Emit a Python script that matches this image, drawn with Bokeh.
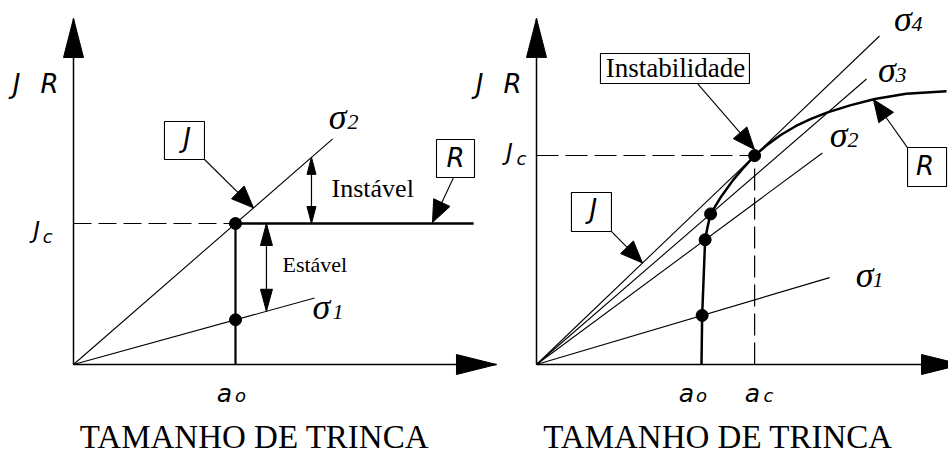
import math

from bokeh.core.properties import value
from bokeh.embed import file_html
from bokeh.models import Range1d
from bokeh.plotting import figure
from bokeh.resources import INLINE

# ---------------------------------------------------------------------------
# Data, in normalised units: crack length a / a0 and J / Jc
# ---------------------------------------------------------------------------

# Left diagram: flat resistance curve (R = Jc from a0 on)
L_A0 = 1.0
L_JC = 1.0
L_SIGMA = ["1", "2"]
L_SLOPE = [0.317, 1.0]            # J = slope * a for each applied stress
L_SIGMA_END = [1.488, 1.600]      # crack length up to which each J line is drawn
L_R_END = 2.47

# Right diagram: rising resistance curve
R_A0 = 1.0
R_AC = 1.322
R_JC = 1.0
R_SIGMA = ["1", "2", "3", "4"]
R_SLOPE = [0.234, 0.584, 0.683, 0.756]
R_SIGMA_END = [1.776, 1.733, 2.000, 2.079]
R_CURVE_A = [1.000, 1.004, 1.022, 1.036, 1.055, 1.120, 1.190, 1.260, 1.322,
             1.400, 1.480, 1.570, 1.660, 1.760, 1.900, 2.050, 2.240, 2.485]
R_CURVE_J = [0.000, 0.235, 0.597, 0.655, 0.721, 0.804, 0.881, 0.946, 1.000,
             1.052, 1.098, 1.140, 1.174, 1.205, 1.240, 1.270, 1.295, 1.308]
R_DOT_A = [1.004, 1.022, 1.055, 1.322]   # where each J line meets the R curve

X_TITLE = "TAMANHO DE TRINCA"

# ---------------------------------------------------------------------------
# Layout: both diagrams share one canvas, each with its own scales
# ---------------------------------------------------------------------------
W, H = 948, 455
LEFT = dict(ox=73, oy=364, sx=162.0, sy=141.0, kw={})
RIGHT = dict(ox=536, oy=364, sx=165.0, sy=209.0,
             kw=dict(x_range_name="rx", y_range_name="ry"))

# the text box sits a little below the requested baseline; lift it by this
# fraction of the font size
BASELINE_LIFT = 0.38


def x_range_of(panel):
    return Range1d(-panel["ox"] / panel["sx"], (W - panel["ox"]) / panel["sx"])


def y_range_of(panel):
    return Range1d(-(H - panel["oy"]) / panel["sy"], panel["oy"] / panel["sy"])


p = figure(width=W, height=H, x_range=x_range_of(LEFT), y_range=y_range_of(LEFT),
           x_axis_type=None, y_axis_type=None, toolbar_location=None,
           output_backend="svg", min_border=0, outline_line_color=None,
           background_fill_color="white", border_fill_color="white")
p.extra_x_ranges = {"rx": x_range_of(RIGHT)}
p.extra_y_ranges = {"ry": y_range_of(RIGHT)}

SANS = value("DejaVu Sans")
SERIF = value("Liberation Serif")


def head(panel, tail, tip, length, width):
    """Filled triangular arrow head of a given pixel size pointing at tip."""
    sx, sy = panel["sx"], panel["sy"]
    dx, dy = (tip[0] - tail[0]) * sx, (tip[1] - tail[1]) * sy
    n = math.hypot(dx, dy)
    ux, uy = dx / n, dy / n
    bx, by = -ux * length, -uy * length
    nx, ny = -uy * width / 2, ux * width / 2
    xs = [tip[0], tip[0] + (bx + nx) / sx, tip[0] + (bx - nx) / sx]
    ys = [tip[1], tip[1] + (by + ny) / sy, tip[1] + (by - ny) / sy]
    p.patch(xs, ys, fill_color="black", line_color="black", line_width=1, **panel["kw"])


def arrow(panel, tail, tip, length=22, width=18, lw=1.1):
    p.line([tail[0], tip[0]], [tail[1], tip[1]], line_color="black", line_width=lw,
           **panel["kw"])
    head(panel, tail, tip, length, width)


def double_arrow(panel, a, j0, j1, length, width):
    p.line([a, a], [j0, j1], line_color="black", line_width=1.2, **panel["kw"])
    head(panel, (a, j1), (a, j0), length, width)
    head(panel, (a, j0), (a, j1), length, width)


def txt(panel, x, y, s, size, font, style="normal", align="left"):
    y = y + BASELINE_LIFT * size / panel["sy"]
    p.text(x=[x], y=[y], text=[s], text_font=font, text_font_size=f"{size}px",
           text_font_style=style, text_align=align, text_baseline="alphabetic",
           text_color="black", **panel["kw"])


def box(panel, x, y, w, h):
    p.rect(x=[x], y=[y], width=w, height=h, width_units="screen", height_units="screen",
           fill_color="white", line_color="black", line_width=1.1, **panel["kw"])


def axes(panel, x_tip, y_tip):
    p.line([0, x_tip], [0, 0], line_color="black", line_width=1.5, **panel["kw"])
    p.line([0, 0], [0, y_tip], line_color="black", line_width=1.5, **panel["kw"])
    head(panel, (0, 0), (x_tip, 0), 40, 20)
    head(panel, (0, 0), (0, y_tip), 39, 20)


def sigma_label(panel, x_sig, x_idx, y, idx):
    txt(panel, x_sig, y, "σ", 36, SERIF, style="italic")
    txt(panel, x_idx, y, idx, 22, SERIF, style="italic")


def sub_label(panel, x_main, y_main, main, size_main, x_sub, y_sub, sub, size_sub):
    txt(panel, x_main, y_main, main, size_main, SANS, style="italic", align="center")
    txt(panel, x_sub, y_sub, sub, size_sub, SANS, style="italic", align="center")


# ---------------------------------------------------------------------------
# Left diagram
# ---------------------------------------------------------------------------
axes(LEFT, 2.611, 2.454)

for k, end in zip(L_SLOPE, L_SIGMA_END):
    p.line([0, end], [0, k * end], line_color="black", line_width=1.1)

p.line([0, L_A0], [L_JC, L_JC], line_color="black", line_width=1.2, line_dash="18 7")
p.line([L_A0, L_A0], [0, L_JC], line_color="black", line_width=2.2)
p.line([L_A0, L_R_END], [L_JC, L_JC], line_color="black", line_width=2.5)
p.scatter([L_A0] * len(L_SLOPE), [k * L_A0 for k in L_SLOPE], size=12, color="black")

# stability arrows
a_inst, a_est = 1.469, 1.191
double_arrow(LEFT, a_inst, L_JC, L_SLOPE[1] * a_inst, 17, 9)
double_arrow(LEFT, a_est, L_JC, L_SLOPE[0] * a_est, 22, 12)
txt(LEFT, 1.593, 1.177, "Instável", 26, SERIF)
txt(LEFT, 1.290, 0.652, "Estável", 22, SERIF)

sigma_label(LEFT, 1.575, 1.691, 1.660, L_SIGMA[1])
sigma_label(LEFT, 1.476, 1.599, 0.312, L_SIGMA[0])

# call-outs
arrow(LEFT, (0.809, 1.454), (1.111, 1.111))
box(LEFT, 0.685, 1.589, 40, 38)
txt(LEFT, 0.701, 1.539, "J", 26, SANS, style="italic", align="center")
arrow(LEFT, (2.346, 1.326), (2.216, 1.007))
box(LEFT, 2.358, 1.461, 38, 38)
txt(LEFT, 2.358, 1.397, "R", 26, SANS, style="italic", align="center")

# axis texts
txt(LEFT, -0.352, 1.922, "J", 26, SANS, style="italic", align="center")
txt(LEFT, -0.148, 1.922, "R", 26, SANS, style="italic", align="center")
sub_label(LEFT, -0.228, 0.894, "J", 23, -0.160, 0.858, "c", 18)
sub_label(LEFT, 0.932, -0.270, "a", 25, 1.031, -0.270, "o", 18)
txt(LEFT, 1.117, -0.603, X_TITLE, 33, SERIF, align="center")

# ---------------------------------------------------------------------------
# Right diagram
# ---------------------------------------------------------------------------
axes(RIGHT, 2.576, 1.656)

kw_r = RIGHT["kw"]
for k, end in zip(R_SLOPE, R_SIGMA_END):
    p.line([0, end], [0, k * end], line_color="black", line_width=1.1, **kw_r)

p.line([0, R_AC], [R_JC, R_JC], line_color="black", line_width=1.2, line_dash="22 7", **kw_r)
p.line([R_AC, R_AC], [0, R_JC], line_color="black", line_width=1.2, line_dash="22 7", **kw_r)
p.line(R_CURVE_A, R_CURVE_J, line_color="black", line_width=2.5, line_join="round", **kw_r)
p.scatter(R_DOT_A, [k * a for k, a in zip(R_SLOPE, R_DOT_A)], size=12, color="black", **kw_r)

sigma_label(RIGHT, 2.166, 2.273, 1.589, R_SIGMA[3])
sigma_label(RIGHT, 2.069, 2.176, 1.344, R_SIGMA[2])
sigma_label(RIGHT, 1.778, 1.885, 1.033, R_SIGMA[1])
sigma_label(RIGHT, 1.935, 2.036, 0.364, R_SIGMA[0])

# call-outs
arrow(RIGHT, (0.976, 1.344), (1.321, 1.029))
box(RIGHT, 0.839, 1.416, 149, 30)
txt(RIGHT, 0.842, 1.368, "Instabilidade", 27, SERIF, align="center")
arrow(RIGHT, (0.455, 0.636), (0.642, 0.486))
box(RIGHT, 0.333, 0.730, 40, 39)
txt(RIGHT, 0.345, 0.699, "J", 26, SANS, style="italic", align="center")
arrow(RIGHT, (2.248, 1.038), (2.042, 1.268))
box(RIGHT, 2.367, 0.945, 39, 39)
txt(RIGHT, 2.355, 0.904, "R", 26, SANS, style="italic", align="center")

# axis texts
txt(RIGHT, -0.345, 1.297, "J", 26, SANS, style="italic", align="center")
txt(RIGHT, -0.145, 1.297, "R", 26, SANS, style="italic", align="center")
sub_label(RIGHT, -0.164, 0.976, "J", 23, -0.091, 0.952, "c", 18)
sub_label(RIGHT, 0.909, -0.182, "a", 25, 1.000, -0.182, "o", 18)
sub_label(RIGHT, 1.309, -0.182, "a", 25, 1.406, -0.182, "c", 18)
txt(RIGHT, 1.100, -0.407, X_TITLE, 33, SERIF, align="center")

open("out.html", "w").write(file_html(p, INLINE))
